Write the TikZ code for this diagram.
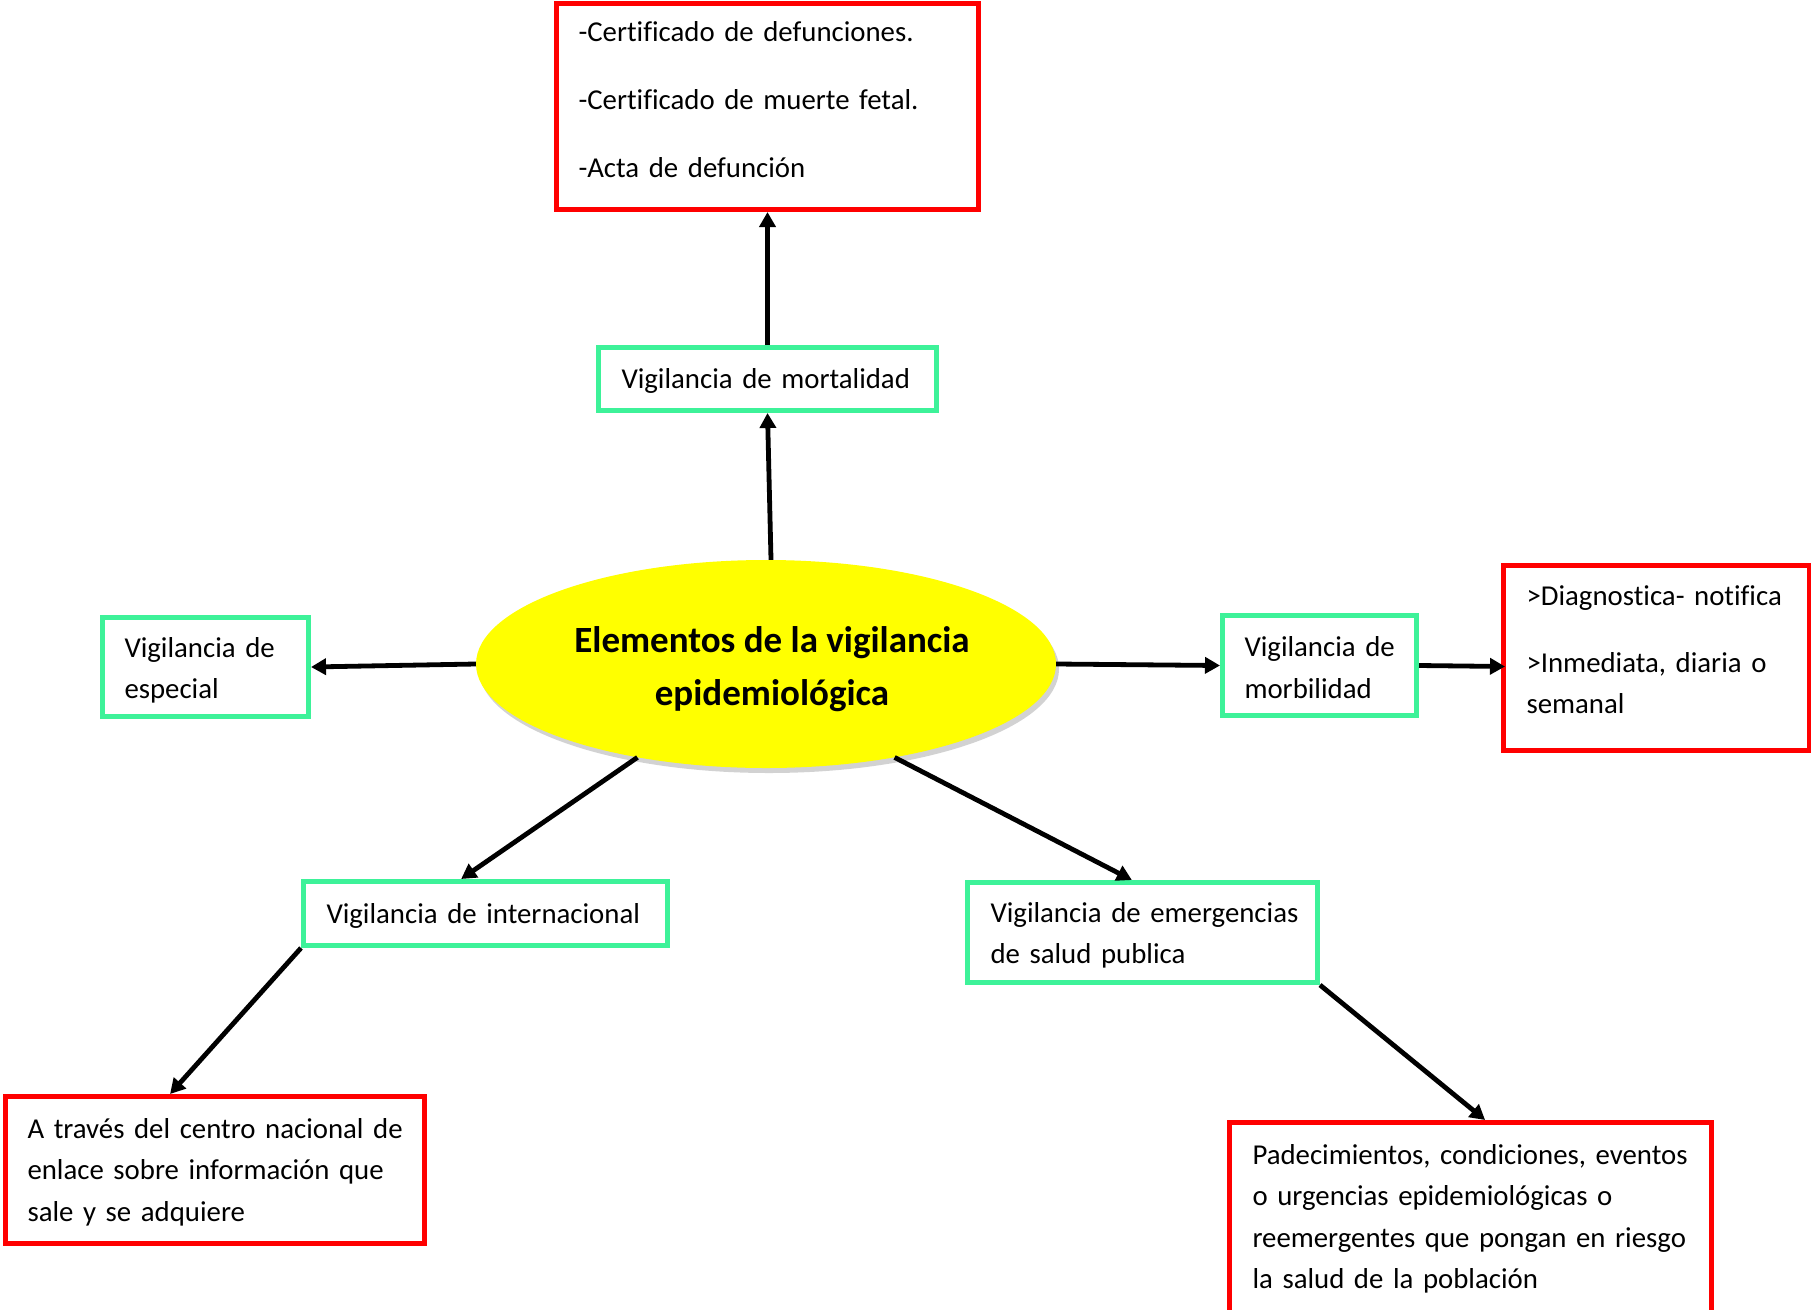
\documentclass[tikz,border=0pt]{standalone}
\usepackage{fontspec}
\setmainfont{Carlito}[Ligatures=CommonOff]
\usetikzlibrary{arrows.meta,shapes.geometric,shadows,calc}
\definecolor{vgreen}{RGB}{61,242,153}
\definecolor{vred}{RGB}{255,0,0}
\definecolor{vyellow}{RGB}{255,255,0}
\newcommand{\dn}[1]{\rule[-#1]{0pt}{0pt}}
\newcommand{\up}[1]{\rule{0pt}{#1}}
\newcommand{\Ln}[1]{\mbox{#1}}
\begin{document}
\begin{tikzpicture}[x=1pt,y=-1pt,
  box/.style={draw, line width=5pt, inner xsep=#1, inner ysep=0pt, align=left,
    anchor=north west, font=\fontsize{28.8}{41.5}\selectfont},
  gbox/.style={box=#1, draw=vgreen},
  rbox/.style={box=#1, draw=vred},
  arr/.style={line width=4.8pt, -{Triangle[length=15pt,width=16pt]}}]
\useasboundingbox (0,0) rectangle (1811,1309);
\fill[white] (0,0) rectangle (1811,1309);

\node[ellipse, fill=vyellow, minimum width=580, minimum height=208, inner sep=0pt,
  drop shadow={shadow xshift=3pt, shadow yshift=-5pt, opacity=0.35},
  align=center, font=\fontsize{37}{53}\selectfont\bfseries] (ell) at (766,664)
  {\up{37pt}\hspace*{12pt}Elementos de la vigilancia\\\hspace*{12pt}epidemiológica};

\node[rbox=22pt, text width=378, minimum height=206] (cert) at (554,1)
  {\Ln{-Certificado de defunciones.}\\[26.5pt]\Ln{-Certificado de muerte fetal.}\\[26.5pt]\Ln{-Acta de defunción}\dn{14pt}};
\node[gbox=23pt, text width=292, minimum height=63] (mort) at (596,345)
  {\up{24.5pt}\Ln{Vigilancia de mortalidad}};
\node[gbox=22pt, text width=162, minimum height=99] (esp) at (100,615)
  {\up{27pt}\Ln{Vigilancia de}\\\Ln{especial}};
\node[gbox=22pt, text width=150, minimum height=100] (morb) at (1220,613)
  {\up{24pt}\Ln{Vigilancia de}\\\Ln{morbilidad}};
\node[rbox=23pt, text width=260, minimum height=185] (diag) at (1501,563)
  {\Ln{>Diagnostica- notifica}\\[25pt]\Ln{>Inmediata, diaria o}\\\Ln{semanal}\dn{16pt}};
\node[gbox=23pt, text width=318, minimum height=64] (inter) at (301,879)
  {\up{24pt}\Ln{Vigilancia de internacional}};
\node[gbox=23pt, text width=304, minimum height=100] (emer) at (965,880)
  {\up{26pt}\Ln{Vigilancia de emergencias}\\\Ln{de salud publica}};
\node[rbox=22pt, text width=375, minimum height=147] (bl) at (3,1094)
  {\up{24pt}\Ln{A través del centro nacional de}\\\Ln{enlace sobre información que}\\\Ln{sale y se adquiere}};
\node[rbox=23pt, text width=436, minimum height=210] (br) at (1227,1120)
  {\Ln{Padecimientos, condiciones, eventos}\\\Ln{o urgencias epidemiológicas o}\\\Ln{reemergentes que pongan en riesgo}\\\Ln{la salud de la población}\dn{22pt}};

\draw[arr] ($(ell.north)+(5,0)$) -- (mort.south);
\draw[arr] (mort.north) -- (cert.south);
\draw[arr] (ell.west) -- (esp.east);
\draw[arr] (ell.east) -- (morb.west);
\draw[arr] (morb.east) -- ($(morb.east -| diag.west)+(4,1)$);
\draw[arr] (ell.216) -- ($(inter.north west)!0.434!(inter.north east)$);
\draw[arr] (ell.324) -- ($(emer.north west)!0.47!(emer.north east)$);
\draw[arr] (inter.south west) -- ($(bl.north west)!0.394!(bl.north east)$);
\draw[arr] (emer.south east) -- ($(br.north west)!0.53!(br.north east)$);
\end{tikzpicture}
\end{document}
